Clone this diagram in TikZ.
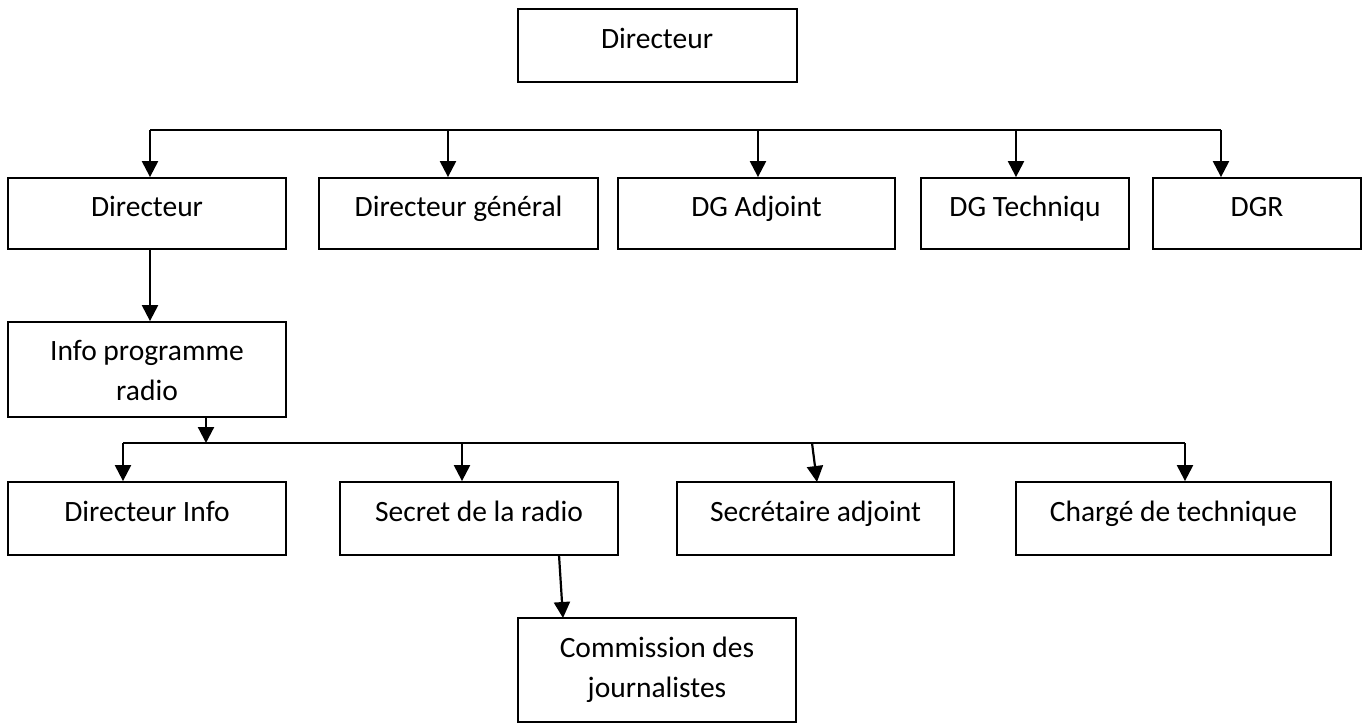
\documentclass[tikz,border=0pt]{standalone}
\usepackage{fontspec}
\setmainfont{Carlito}
\usetikzlibrary{arrows.meta}
\begin{document}
\begin{tikzpicture}[x=1pt,y=-1pt,
  box/.style={draw, line width=1.8pt, inner sep=0pt, minimum height=#1},
  box/.default=71pt,
  lbl/.style={anchor=base, inner sep=0pt, font=\fontsize{29.5}{35}\selectfont},
  conn/.style={line width=2.2pt},
  arr/.style={line width=2.2pt, -{Triangle[length=16pt,width=16pt]}}]
\useasboundingbox (0,0) rectangle (1368,724);

% boxes
\node[box=73pt, minimum width=279pt] (T) at (657.5,45.5) {};
\node[box, minimum width=278pt] (A) at (147,213.5) {};
\node[box, minimum width=279pt] (B) at (458.5,213.5) {};
\node[box, minimum width=277pt] (C) at (756.5,213.5) {};
\node[box, minimum width=208pt] (D) at (1025,213.5) {};
\node[box, minimum width=208pt] (E) at (1257,213.5) {};
\node[box=95pt, minimum width=278pt] (I) at (147,369.5) {};
\node[box=73pt, minimum width=278pt] (F) at (147,518.5) {};
\node[box=73pt, minimum width=278pt] (G) at (479,518.5) {};
\node[box=73pt, minimum width=277pt] (H) at (815.5,518.5) {};
\node[box=73pt, minimum width=315pt] (J) at (1173.5,518.5) {};
\node[box=104pt, minimum width=278pt] (K) at (657,670) {};

% labels
\node[lbl] (tT) at (657,48) {Directeur};
\node[lbl] (tA) at (147,216) {Directeur};
\node[lbl] (tB) at (458.5,216) {Directeur général};
\node[lbl] (tC) at (756.5,216) {DG Adjoint};
\node[lbl] (tD) at (1025,216) {DG Techniqu};
\node[lbl] (tE) at (1257,216) {DGR};
\node[lbl] (tI1) at (147,360) {Info programme};
\node[lbl] (tI2) at (147,400) {radio};
\node[lbl] (tF) at (147,521) {Directeur Info};
\node[lbl] (tG) at (479,521) {Secret de la radio};
\node[lbl] (tH) at (815.5,521) {Secrétaire adjoint};
\node[lbl] (tJ) at (1173.5,521) {Chargé de technique};
\node[lbl] (tK1) at (657,657) {Commission des};
\node[lbl] (tK2) at (657,697) {journalistes};

% first bus
\coordinate (b1) at (150,130);
\coordinate (b2) at (448,130);
\coordinate (b3) at (758,130);
\coordinate (b4) at (1016,130);
\coordinate (b5) at (1221,130);
\draw[conn] (b1) -- (b5);
\draw[arr] (b1) -- (b1 |- A.north);
\draw[arr] (b2) -- (b2 |- B.north);
\draw[arr] (b3) -- (b3 |- C.north);
\draw[arr] (b4) -- (b4 |- D.north);
\draw[arr] (b5) -- (b5 |- E.north);

% Directeur -> Info programme
\draw[arr] (b1 |- A.south) -- (b1 |- I.north);

% second bus
\coordinate (s0) at (206,443);
\coordinate (s1) at (123,443);
\coordinate (s2) at (462,443);
\coordinate (s3) at (812,443);
\coordinate (s3e) at (817,482);
\coordinate (s4) at (1185,443);
\draw[arr] (I.south -| s0) -- (s0);
\draw[conn] (s1) -- (s4);
\draw[arr] (s1) -- (s1 |- F.north);
\draw[arr] (s2) -- (s2 |- G.north);
\draw[arr] (s3) -- (s3e);
\draw[arr] (s4) -- (s4 |- J.north);

% Secret -> Commission
\coordinate (g0) at (559,555);
\coordinate (k0) at (563,618);
\draw[arr] (g0) -- (k0);
\end{tikzpicture}
\end{document}
